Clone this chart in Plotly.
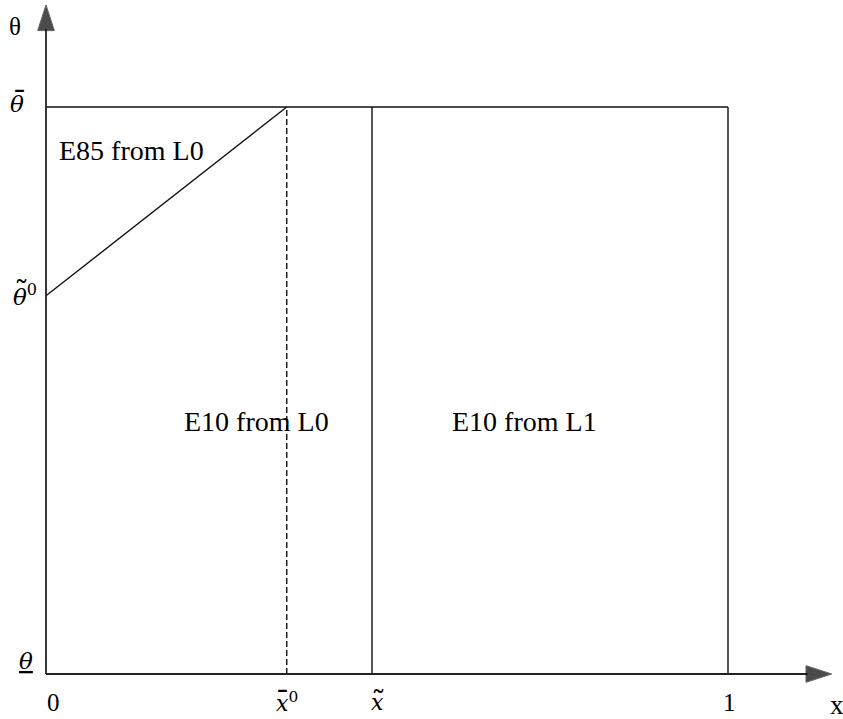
import plotly.graph_objects as go

# key positions (data units)
x_bar0 = 0.353
x_tilde = 0.478
x_one = 1.0
theta_low = 0.0
theta_bar = 1.0
theta_tilde0 = 0.667
x_axis_end = 1.152
y_axis_end = 1.18

region_labels = ["E85 from L0", "E10 from L0", "E10 from L1"]
region_x = [0.125, 0.309, 0.701]
region_y = [0.924, 0.446, 0.446]

x_tick_vals = [0.0, x_bar0, x_tilde, x_one]
x_tick_text = ["0", "<i>x</i><sup>0</sup>", "<i>x</i>", "1"]
x_tick_accent = ["", "¯", "˜", ""]
x_tick_math = [False, True, True, False]
x_tick_dx = [7, 0, 5, 1]
y_tick_vals = [theta_bar, theta_tilde0, theta_low]
y_tick_text = ["<i>θ</i>", "<i>θ</i><sup>0</sup>", "<u><i>θ</i></u>"]
y_tick_accent = ["¯", "˜", ""]
y_tick_dx = [-29, -21, -20]
y_tick_dy = [3, 1, 13]

W, H = 843, 719
x0px, x1px = 46, 728
y0px, y1px = 674, 107
sx = (x1px - x0px)
sy = (y0px - y1px)
xr = [-x0px / sx, (W - x0px) / sx]
yr = [(y0px - H) / sy, y0px / sy]

font = "Liberation Serif, Times New Roman, serif"
mfont = "DejaVu Serif, serif"
col = "#111111"
axcol = "#222222"

fig = go.Figure()
# top line
fig.add_trace(go.Scatter(x=[0, x_one], y=[theta_bar, theta_bar], mode="lines",
                         line=dict(color=col, width=1.4), showlegend=False))
# right vertical
fig.add_trace(go.Scatter(x=[x_one, x_one], y=[theta_low, theta_bar], mode="lines",
                         line=dict(color=col, width=1.4), showlegend=False))
# x tilde vertical
fig.add_trace(go.Scatter(x=[x_tilde, x_tilde], y=[theta_low, theta_bar], mode="lines",
                         line=dict(color=col, width=1.4), showlegend=False))
# dashed x bar0
fig.add_trace(go.Scatter(x=[x_bar0, x_bar0], y=[theta_low, theta_bar], mode="lines",
                         line=dict(color=col, width=1.4, dash="6px,3px"), showlegend=False))
# diagonal
fig.add_trace(go.Scatter(x=[0, x_bar0], y=[theta_tilde0, theta_bar], mode="lines",
                         line=dict(color=col, width=1.4), showlegend=False))

# axes with arrow heads
fig.add_trace(go.Scatter(x=[0, x_axis_end], y=[0, 0], mode="lines+markers",
                         line=dict(color=axcol, width=1.8),
                         marker=dict(symbol="arrow", angleref="previous", size=[0, 27],
                                     color="black"),
                         showlegend=False))
fig.add_trace(go.Scatter(x=[0, 0], y=[0, y_axis_end], mode="lines+markers",
                         line=dict(color=axcol, width=1.8),
                         marker=dict(symbol="arrow", angleref="previous", size=[0, 27],
                                     color="black"),
                         showlegend=False))

# axis titles
fig.add_annotation(x=0, y=y_axis_end, xref="x", yref="y", text="θ", showarrow=False,
                   xshift=-31, yshift=-22, font=dict(family=font, size=25, color="black"))
fig.add_annotation(x=x_axis_end, y=0, xref="x", yref="y", text="x", showarrow=False,
                   xshift=5, yshift=-31, font=dict(family=font, size=27, color="black"))

# tick labels
for xv, t, a, m, dx in zip(x_tick_vals, x_tick_text, x_tick_accent, x_tick_math, x_tick_dx):
    fig.add_annotation(x=xv, y=0, xref="x", yref="y", text=t, showarrow=False,
                       xshift=dx, yshift=-28,
                       font=dict(family=mfont if m else font, size=22 if m else 25,
                                 color="black"))
    if a:
        fig.add_annotation(x=xv, y=0, xref="x", yref="y", text=a, showarrow=False,
                           xshift=dx + 1 - (5 if "sup" in t else 0), yshift=-27,
                           font=dict(family=mfont, size=30, color="black"))
for yv, t, a, dx, dy in zip(y_tick_vals, y_tick_text, y_tick_accent, y_tick_dx, y_tick_dy):
    fig.add_annotation(x=0, y=yv, xref="x", yref="y", text=t, showarrow=False,
                       xshift=dx, yshift=dy,
                       font=dict(family=mfont, size=23, color="black"))
    if a:
        fig.add_annotation(x=0, y=yv, xref="x", yref="y", text=a, showarrow=False,
                           xshift=dx + 2 - (6 if "sup" in t else 0), yshift=dy + 3,
                           font=dict(family=mfont, size=30, color="black"))

for t, xv, yv in zip(region_labels, region_x, region_y):
    fig.add_annotation(x=xv, y=yv, xref="x", yref="y", text=t, showarrow=False,
                       font=dict(family=font, size=28, color="black"))

fig.update_layout(width=W, height=H, margin=dict(l=0, r=0, t=0, b=0),
                  plot_bgcolor="white", paper_bgcolor="white",
                  xaxis=dict(range=xr, visible=False, fixedrange=True),
                  yaxis=dict(range=yr, visible=False, fixedrange=True))
fig.write_html("out.html")
